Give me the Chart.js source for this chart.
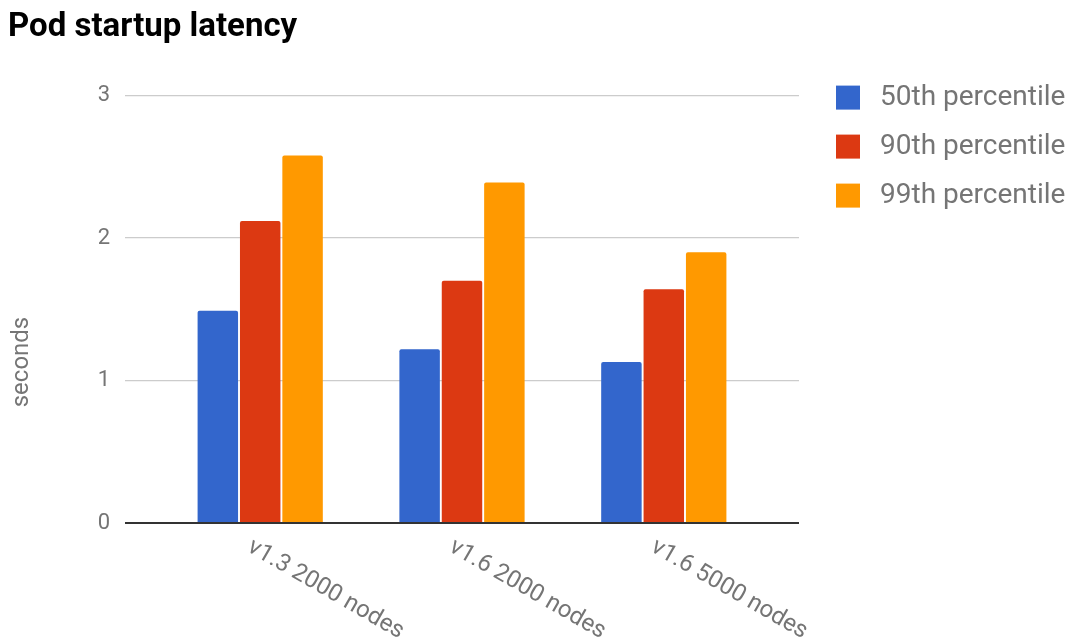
<!DOCTYPE html>
<html><head><meta charset="utf-8">
<script src="https://cdn.jsdelivr.net/npm/chart.js@4/dist/chart.umd.min.js"></script>
<style>html,body{margin:0;padding:0;background:#fff;}</style>
</head><body>
<canvas id="c" width="1076" height="643"></canvas>
<script>
const categories = ['v1.3 2000 nodes', 'v1.6 2000 nodes', 'v1.6 5000 nodes'];
const seriesNames = ['50th percentile', '90th percentile', '99th percentile'];
const p50 = [1.49, 1.22, 1.13];
const p90 = [2.12, 1.70, 1.64];
const p99 = [2.58, 2.39, 1.90];
const yTickValues = [0, 1, 2, 3];
const yAxisTitle = 'seconds';
const seriesColors = ['#3366cc', '#dc3912', '#ff9900'];

const seriesValues = [p50, p90, p99];
const datasets = seriesNames.map((name, s) => ({
  label: name,
  data: seriesValues[s].map((v, i) => ({x: i, y: v})),
  backgroundColor: seriesColors[s],
  borderWidth: 0,
  borderRadius: 2,
  categoryPercentage: 0.63,
  barPercentage: 0.955
}));

const customDraw = {
  id: 'customDraw',
  afterDraw(chart) {
    const ctx = chart.ctx;
    const xs = chart.scales.x;
    const ys = chart.scales.y;
    const area = chart.chartArea;
    ctx.save();
    // category labels, slanted
    ctx.font = '24px Roboto';
    ctx.fillStyle = '#757575';
    ctx.textAlign = 'left';
    ctx.textBaseline = 'top';
    categories.forEach((lab, i) => {
      const px = xs.getPixelForValue(i);
      ctx.save();
      ctx.translate(px - 5, area.bottom + 12);
      ctx.rotate(30 * Math.PI / 180);
      ctx.fillText(lab, 0, 0);
      ctx.restore();
    });
    // y axis title
    ctx.save();
    ctx.translate(22, ys.getPixelForValue(1.13));
    ctx.rotate(-Math.PI / 2);
    ctx.textAlign = 'center';
    ctx.textBaseline = 'middle';
    ctx.font = '24px Roboto';
    ctx.fillText(yAxisTitle, 0, 0);
    ctx.restore();
    // legend
    chart.data.datasets.forEach((ds, i) => {
      const cy = area.top + 2 + i * 49;
      const bx = area.right + 37;
      ctx.fillStyle = ds.backgroundColor;
      ctx.fillRect(bx, cy - 12, 24, 24);
      ctx.fillStyle = '#757575';
      ctx.font = '28px Roboto';
      ctx.textAlign = 'left';
      ctx.textBaseline = 'middle';
      ctx.fillText(ds.label, bx + 44, cy);
    });
    ctx.restore();
  }
};

new Chart(document.getElementById('c'), {
  type: 'bar',
  data: {datasets},
  plugins: [customDraw],
  options: {
    responsive: false,
    animation: false,
    devicePixelRatio: 1,
    layout: {padding: {left: 8, right: 277, top: 0, bottom: 0}},
    plugins: {
      legend: {display: false},
      tooltip: {enabled: false},
      title: {
        display: true,
        text: 'Pod startup latency',
        align: 'start',
        color: '#000',
        font: {family: 'Roboto', size: 33, weight: 'bold'},
        padding: {top: 8, bottom: 48}
      }
    },
    scales: {
      x: {
        type: 'linear',
        min: -0.67,
        max: 2.67,
        offset: false,
        grid: {display: false},
        border: {display: false},
        ticks: {display: false},
        afterBuildTicks(s) { s.ticks = categories.map((c, i) => ({value: i})); },
        afterFit(s) { s.height = 120; }
      },
      y: {
        min: 0,
        max: 3,
        afterBuildTicks(s) { s.ticks = yTickValues.map(v => ({value: v})); },
        ticks: {padding: 15, color: '#757575', font: {family: 'Roboto', size: 22}},
        grid: {
          color: c => c.tick.value === 0 ? '#333333' : '#cccccc',
          lineWidth: c => c.tick.value === 0 ? 2 : 1.3,
          drawTicks: false
        },
        border: {display: false},
        title: {display: false},
        afterFit(s) { s.width = 117; }
      }
    }
  }
});
</script>
</body></html>
